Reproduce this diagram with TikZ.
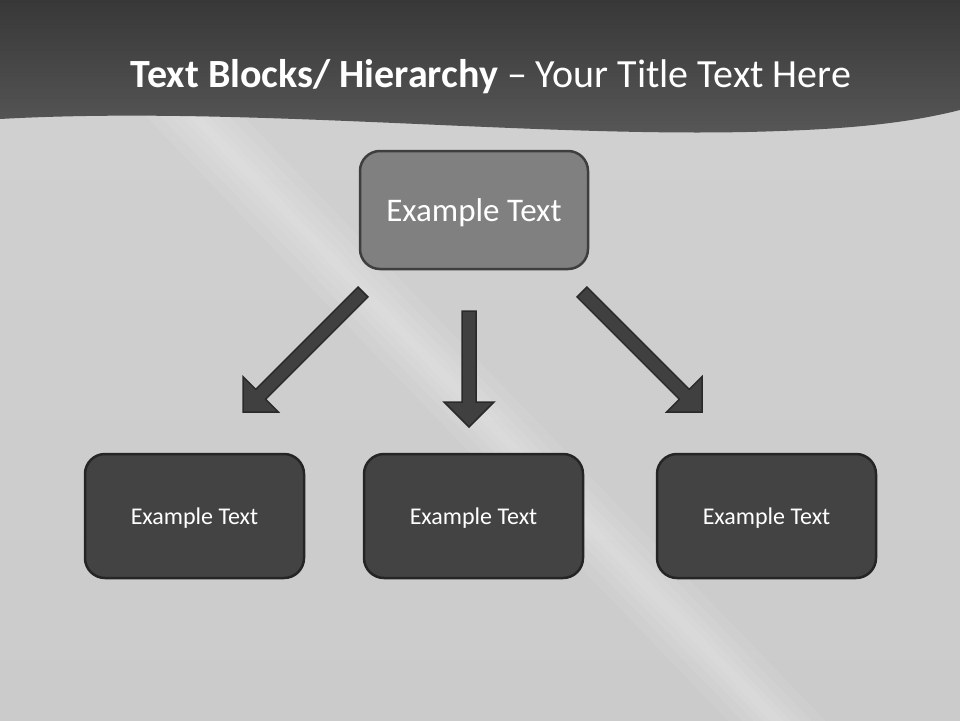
\documentclass[tikz,border=0pt]{standalone}
\usepackage{fontspec}
\setmainfont{Carlito}
\usepackage{xcolor}
\usetikzlibrary{calc}

\definecolor{bgtop}{HTML}{D1D1D1}
\definecolor{bgbot}{HTML}{CBCBCB}
\definecolor{bandtop}{HTML}{383838}
\definecolor{bandbot}{HTML}{585858}
\definecolor{headfill}{HTML}{808080}
\definecolor{headline}{HTML}{3E3E3E}
\definecolor{boxfill}{HTML}{434343}
\definecolor{boxline}{HTML}{252525}
\definecolor{arrfill}{HTML}{404040}
\definecolor{arrline}{HTML}{2A2A2A}

\newcommand{\blockarrow}[2]{%
 \coordinate (hb) at ($(#2)!25pt!(#1)$);
 \draw[blockarrow] ($(#1)!7pt!90:(#2)$) -- ($(hb)!7pt!-90:(#1)$)
   -- ($(hb)!25pt!-90:(#1)$) -- (#2) -- ($(hb)!25pt!90:(#1)$)
   -- ($(hb)!7pt!90:(#1)$) -- ($(#1)!7pt!-90:(#2)$) -- cycle;}

\begin{document}
\begin{tikzpicture}[x=1pt,y=-1pt,
 headbox/.style={draw=headline,line width=2.5pt,fill=headfill,rounded corners=20pt,
   minimum width=228pt,minimum height=118pt,text=white,text depth=0pt,
   font=\fontsize{33}{38}\selectfont},
 textbox/.style={draw=boxline,line width=2.5pt,fill=boxfill,rounded corners=20pt,
   minimum width=219pt,minimum height=124pt,text=white,text depth=0pt,
   font=\fontsize{24}{28}\selectfont},
 blockarrow/.style={draw=arrline,line width=1.5pt,fill=arrfill,line join=miter}]
 \useasboundingbox (0,0) rectangle (960,720);

 \shade[top color=bgtop,bottom color=bgbot] (0,0) rectangle (960,720);
 \coordinate (s1) at (150,70);
 \coordinate (s2) at (800,745);
 \foreach \w in {70,50,34,20,9}
  \draw[white,opacity=0.07,line width=\w pt] (s1) -- (s2);
 \shade[top color=bandtop,bottom color=bandbot] (0,0) -- (960,0) -- (960,110)
  .. controls (920,120) and (870,128) .. (780,131)
  .. controls (550,140) and (250,105) .. (0,119) -- cycle;

 \node[text=white,anchor=base,font=\fontsize{40}{46}\selectfont] (title) at (491,87)
  {\textbf{Text Blocks/ Hierarchy} -- Your Title Text Here};

 \node[headbox] (tb) at (474,210) {Example Text};
 \node[textbox] (lb) at (194.5,516) {Example Text};
 \node[textbox] (mb) at (473.5,516) {Example Text};
 \node[textbox] (rb) at (766.5,516) {Example Text};

 \coordinate (a1s) at (363,292);
 \coordinate (a1e) at (243,412);
 \coordinate (a2s) at (469,311);
 \coordinate (a2e) at (469,427);
 \coordinate (a3s) at (582,292);
 \coordinate (a3e) at (702,412);
 \blockarrow{a1s}{a1e}
 \blockarrow{a2s}{a2e}
 \blockarrow{a3s}{a3e}
\end{tikzpicture}
\end{document}
